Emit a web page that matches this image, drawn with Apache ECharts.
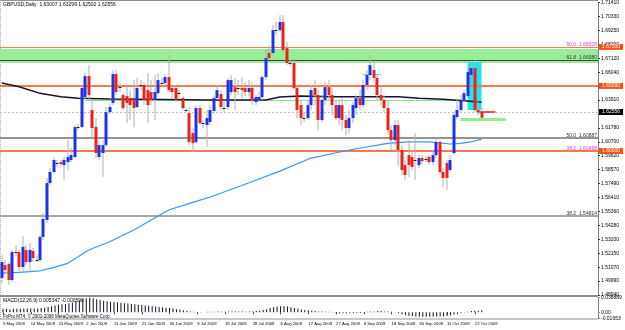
<!DOCTYPE html>
<html>
<head>
<meta charset="utf-8">
<title>GBPUSD Daily</title>
<script src="https://cdn.jsdelivr.net/npm/echarts@6/dist/echarts.min.js"></script>
<style>
  html, body { margin: 0; padding: 0; background: #fff; }
  #chart { width: 625px; height: 330px; }
</style>
</head>
<body>
<div id="chart"></div>
<script>
// daily bars, 5 May 2009 .. 26 Oct 2009 (broker has Sunday bars)
const opens = [
  1.5025, 1.5124, 1.5132, 1.5009, 1.5224, 1.5224, 1.5109, 1.5240, 1.5147, 1.5232,
  1.5163, 1.5163, 1.5340, 1.5470, 1.5754, 1.5839, 1.5908, 1.5915, 1.5892, 1.5915,
  1.5931, 1.5954, 1.6184, 1.6184, 1.6415, 1.6576, 1.6315, 1.6184, 1.5954, 1.5985,
  1.6046, 1.6299, 1.6369, 1.6591, 1.6484, 1.6430, 1.6422, 1.6407, 1.6407, 1.6338,
  1.6507, 1.6507, 1.6468, 1.6453, 1.6392, 1.6445, 1.6522, 1.6522, 1.6568, 1.6484,
  1.6484, 1.6445, 1.6407, 1.6315, 1.6292, 1.6138, 1.6069, 1.6330, 1.6215, 1.6200,
  1.6223, 1.6307, 1.6407, 1.6438, 1.6330, 1.6338, 1.6453, 1.6491, 1.6484, 1.6484,
  1.6484, 1.6453, 1.6484, 1.6376, 1.6392, 1.6415, 1.6568, 1.6753, 1.6753, 1.6929,
  1.6929, 1.6991, 1.6791, 1.6676, 1.6676, 1.6484, 1.6353, 1.6253, 1.6253, 1.6353,
  1.6484, 1.6430, 1.6238, 1.6392, 1.6491, 1.6430, 1.6353, 1.6253, 1.6353, 1.6238,
  1.6177, 1.6253, 1.6330, 1.6407, 1.6353, 1.6507, 1.6584, 1.6622, 1.6561, 1.6430,
  1.6392, 1.6330, 1.6161, 1.6084, 1.6200, 1.6008, 1.5892, 1.5969, 1.5954, 1.5931,
  1.5892, 1.5946, 1.5938, 1.5954, 1.5915, 1.5969, 1.6069, 1.5839, 1.5908, 1.5854,
  1.5985, 1.6261, 1.6315, 1.6392, 1.6422, 1.6584, 1.6637, 1.6315, 1.63007
];
const highs = [
  1.5201, 1.5163, 1.5147, 1.5240, 1.5278, 1.5240, 1.5347, 1.5278, 1.5293, 1.5255,
  1.5201, 1.5355, 1.5524, 1.5793, 1.5869, 1.5954, 1.5931, 1.5931, 1.5954, 1.6084,
  1.6023, 1.6200, 1.6207, 1.6507, 1.6599, 1.6660, 1.6392, 1.6253, 1.6084, 1.6084,
  1.6338, 1.6361, 1.6622, 1.6622, 1.6530, 1.6445, 1.6499, 1.6468, 1.6545, 1.6561,
  1.6545, 1.6530, 1.6599, 1.6545, 1.6584, 1.6599, 1.6561, 1.6591, 1.6737, 1.6507,
  1.6507, 1.6468, 1.6422, 1.6330, 1.6338, 1.6177, 1.6353, 1.6353, 1.6238, 1.6315,
  1.6353, 1.6430, 1.6507, 1.6468, 1.6392, 1.6561, 1.6584, 1.6561, 1.6545, 1.6568,
  1.6530, 1.6545, 1.6530, 1.6430, 1.6453, 1.6584, 1.6776, 1.6814, 1.6968, 1.6991,
  1.7044, 1.7044, 1.6837, 1.6699, 1.6714, 1.6507, 1.6392, 1.6299, 1.6392, 1.6507,
  1.6545, 1.6468, 1.6430, 1.6530, 1.6545, 1.6484, 1.6392, 1.6392, 1.6407, 1.6276,
  1.6315, 1.6376, 1.6430, 1.6468, 1.6545, 1.6622, 1.6737, 1.6683, 1.6584, 1.6507,
  1.6430, 1.6392, 1.6200, 1.6238, 1.6238, 1.6046, 1.5931, 1.6084, 1.6008, 1.6138,
  1.5969, 1.5969, 1.5962, 1.5969, 1.6008, 1.6100, 1.6084, 1.5869, 1.5931, 1.5969,
  1.6299, 1.6392, 1.6430, 1.6468, 1.6637, 1.6668, 1.6699, 1.6392, 1.63299
];
const lows = [
  1.4986, 1.5048, 1.4971, 1.4994, 1.5194, 1.5071, 1.5071, 1.5124, 1.5071, 1.5147,
  1.5147, 1.5147, 1.5316, 1.5447, 1.5739, 1.5823, 1.5885, 1.5885, 1.5777, 1.5854,
  1.5915, 1.5946, 1.6161, 1.6177, 1.6399, 1.6392, 1.6100, 1.5946, 1.5931, 1.5800,
  1.6031, 1.6284, 1.6353, 1.6430, 1.6453, 1.6315, 1.6215, 1.6238, 1.6184, 1.6330,
  1.6468, 1.6353, 1.6215, 1.6353, 1.6238, 1.6430, 1.6499, 1.6507, 1.6453, 1.6407,
  1.6376, 1.6407, 1.6315, 1.6299, 1.6046, 1.5992, 1.6054, 1.6200, 1.6177, 1.6031,
  1.6200, 1.6292, 1.6392, 1.6315, 1.6299, 1.6315, 1.6430, 1.6315, 1.6430, 1.6407,
  1.6422, 1.6422, 1.6353, 1.6353, 1.6376, 1.6392, 1.6545, 1.6699, 1.6737, 1.6891,
  1.6914, 1.6760, 1.6660, 1.6653, 1.6468, 1.6253, 1.6200, 1.6223, 1.6238, 1.6315,
  1.6353, 1.6161, 1.6223, 1.6353, 1.6392, 1.6276, 1.6238, 1.6200, 1.6161, 1.6123,
  1.6138, 1.6215, 1.6276, 1.6315, 1.6330, 1.6468, 1.6545, 1.6530, 1.6392, 1.6353,
  1.6299, 1.6123, 1.6008, 1.6046, 1.5892, 1.5816, 1.5777, 1.5800, 1.5854, 1.5777,
  1.5869, 1.5900, 1.5915, 1.5892, 1.5892, 1.5946, 1.5823, 1.5724, 1.5700, 1.5839,
  1.5969, 1.6246, 1.6299, 1.6376, 1.6407, 1.6545, 1.6299, 1.6276, 1.62502
];
const closes = [
  1.5147, 1.5086, 1.5009, 1.5224, 1.5222, 1.5109, 1.5263, 1.5147, 1.5240, 1.5178,
  1.5165, 1.5340, 1.5478, 1.5754, 1.5839, 1.5931, 1.5910, 1.5900, 1.5931, 1.5954,
  1.5969, 1.6184, 1.6186, 1.6484, 1.6576, 1.6430, 1.6177, 1.5985, 1.6046, 1.6046,
  1.6299, 1.6338, 1.6591, 1.6453, 1.6491, 1.6330, 1.6369, 1.6353, 1.6330, 1.6484,
  1.6505, 1.6392, 1.6353, 1.6392, 1.6453, 1.6545, 1.6520, 1.6568, 1.6468, 1.6453,
  1.6392, 1.6443, 1.6330, 1.6313, 1.6069, 1.6061, 1.6330, 1.6215, 1.6213, 1.6253,
  1.6315, 1.6407, 1.6468, 1.6338, 1.6328, 1.6545, 1.6545, 1.6453, 1.6482, 1.6468,
  1.6453, 1.6484, 1.6392, 1.6415, 1.6415, 1.6568, 1.6714, 1.6714, 1.6929, 1.6927,
  1.6991, 1.6776, 1.6676, 1.6674, 1.6484, 1.6315, 1.6253, 1.6251, 1.6353, 1.6468,
  1.6430, 1.6238, 1.6392, 1.6491, 1.6430, 1.6353, 1.6253, 1.6353, 1.6238, 1.6177,
  1.6253, 1.6353, 1.6407, 1.6353, 1.6507, 1.6584, 1.6660, 1.6561, 1.6430, 1.6392,
  1.6330, 1.6161, 1.6084, 1.6200, 1.6008, 1.5854, 1.5816, 1.5892, 1.5877, 1.5929,
  1.5946, 1.5923, 1.5936, 1.5915, 1.5969, 1.6069, 1.5839, 1.5793, 1.5793, 1.5931,
  1.6276, 1.6315, 1.6392, 1.6445, 1.6607, 1.6637, 1.6315, 1.6299, 1.62556
];
const macdHist = [
  0.009, 0.009, 0.008, 0.009, 0.009, 0.009, 0.010, 0.010, 0.010, 0.010,
  0.010, 0.011, 0.012, 0.014, 0.016, 0.018, 0.020, 0.021, 0.022, 0.024,
  0.026, 0.029, 0.031, 0.034, 0.037, 0.038, 0.037, 0.034, 0.032, 0.030,
  0.029, 0.028, 0.027, 0.026, 0.025, 0.024, 0.023, 0.022, 0.021, 0.020,
  0.019, 0.018, 0.017, 0.016, 0.015, 0.014, 0.013, 0.012, 0.011, 0.010,
  0.008, 0.007, 0.005, 0.004, 0.002, 0.001, 0.000, -0.001, 0.000, 0.001,
  0.001, 0.001, 0.002, 0.001, 0.001, 0.002, 0.002, 0.002, 0.002, 0.002,
  0.001, 0.002, 0.002, 0.003, 0.004, 0.006, 0.008, 0.011, 0.013, 0.015,
  0.016, 0.016, 0.015, 0.013, 0.011, 0.009, 0.007, 0.006, 0.005, 0.004,
  0.003, 0.002, 0.002, 0.001, 0.001, -0.001, -0.002, -0.003, -0.003, -0.003,
  -0.003, -0.003, -0.002, -0.002, -0.001, 0.001, 0.002, 0.002, 0.003, 0.003,
  0.002, 0.002, 0.001, -0.001, -0.003, -0.005, -0.007, -0.009, -0.010, -0.011,
  -0.012, -0.012, -0.012, -0.012, -0.012, -0.011, -0.011, -0.011, -0.010, -0.008,
  -0.006, -0.004, -0.002, -0.001, 0.001, 0.003, 0.004, 0.004, 0.005
];
// moving averages: [bar index, price]
const slowMa = [
  [0, 1.6522], [5, 1.6494], [11, 1.6443], [17, 1.6417], [22, 1.6405], [31, 1.6399],
  [60, 1.6392], [76, 1.6392], [80, 1.6415], [86, 1.6422], [95, 1.6417], [105, 1.6417],
  [114, 1.6417], [120, 1.6405], [127, 1.6397], [133, 1.6386], [138, 1.6375]
];
const fastMa = [
  [0, 1.5063], [5, 1.5068], [11, 1.5080], [14, 1.5099], [19, 1.5137], [22, 1.5188],
  [25, 1.5240], [31, 1.5303], [38, 1.5393], [43, 1.5470], [48, 1.5547], [54, 1.5598],
  [60, 1.5647], [71, 1.5754], [80, 1.5846], [89, 1.5946], [100, 1.6008], [111, 1.6059],
  [117, 1.6071], [123, 1.6071], [129, 1.6054], [132, 1.6059], [135, 1.6071], [138, 1.6090]
];
const dateLabels = [
  '5 May 2009', '14 May 2009', '24 May 2009', '2 Jun 2009', '11 Jun 2009', '21 Jun 2009',
  '30 Jun 2009', '9 Jul 2009', '19 Jul 2009', '28 Jul 2009', '6 Aug 2009', '17 Aug 2009',
  '27 Aug 2009', '8 Sep 2009', '18 Sep 2009', '30 Sep 2009', '11 Oct 2009', '22 Oct 2009'
];
const priceTicks = [
  '1.48940', '1.49990', '1.51070', '1.52150', '1.53200', '1.54280', '1.55360', '1.56410',
  '1.57490', '1.58570', '1.59620', '1.60700', '1.61780', '1.62830', '1.63910', '1.64990',
  '1.66040', '1.67120', '1.68200', '1.69250', '1.70330', '1.71410'
];
const fibPrices = [1.6834, 1.6697, 1.6089, 1.6048, 1.5482];
const fibTexts = ['50.0  1.68328', '61.8  1.66980', '50.0  1.60887', '38.2  1.60468', '38.2  1.54814'];
const orangeLevels = [1.6750, 1.6500, 1.6000];
const greenZone = [1.6676, 1.6783];
const cyanBox = [[134, 1.6683], [138, 1.6315]];
const bidPrice = 1.62556;
const macdRange = [-0.01653, 0.038889];

const BAR_SLOTS = 172;
const LAB = { fontFamily: 'Liberation Sans', fontSize: 5, color: '#000' };

const candles = opens.map((o, i) => [i, o, highs[i], lows[i], closes[i]]);

function renderCandle(params, api) {
  const i = api.value(0);
  const o = api.value(1), c = api.value(4);
  const pO = api.coord([i, o]);
  const pC = api.coord([i, c]);
  const pH = api.coord([i, api.value(2)]);
  const pL = api.coord([i, api.value(3)]);
  const x = Math.round(pO[0]);
  const top = Math.min(pO[1], pC[1]);
  const h = Math.abs(pO[1] - pC[1]);
  const body = h < 1
    ? { type: 'line', shape: { x1: x - 1.5, y1: Math.round(top) + 0.5, x2: x + 1.5, y2: Math.round(top) + 0.5 },
        style: { stroke: '#202020', lineWidth: 1 } }
    : { type: 'rect', shape: { x: x - 1.5, y: top, width: 3, height: h },
        style: { fill: c >= o ? '#1f33e6' : '#e6261c' } };
  return {
    type: 'group',
    children: [
      { type: 'line', shape: { x1: x, y1: pH[1], x2: x, y2: pL[1] }, style: { stroke: '#b0b0b0', lineWidth: 1 } },
      body
    ]
  };
}

const fibColors = ['#f060f0', '#404040', '#707070', '#f060f0', '#a8a8a8'];
const fibWidths = [1, 1, 1.5, 1, 2];
const levelLines = [];
fibPrices.forEach((p, k) => {
  levelLines.push({
    yAxis: p,
    lineStyle: { color: fibColors[k], width: fibWidths[k], type: 'solid' },
    label: { show: true, position: 'insideEndTop', distance: [1, 0], formatter: fibTexts[k],
      ...LAB, color: k === 0 || k === 3 ? '#e040e0' : '#303030' }
  });
});
orangeLevels.forEach((p, k) => {
  levelLines.push({
    yAxis: p,
    lineStyle: { color: '#f77a4f', width: k === 0 ? 1 : 2, type: 'solid' },
    label: { show: true, position: 'end', distance: 1, formatter: p.toFixed(5),
      ...LAB, color: '#fff', backgroundColor: '#f2541b', padding: [1, 3, 0, 3] }
  });
});
levelLines.push({
  yAxis: bidPrice,
  lineStyle: { color: '#c0c0c0', width: 1, type: [2, 2] },
  label: { show: true, position: 'end', distance: 1, formatter: bidPrice.toFixed(5),
    ...LAB, color: '#fff', backgroundColor: '#000', padding: [1, 3, 0, 3] }
});
// drawn objects
levelLines.push([
  { coord: [24, 1.6388], lineStyle: { color: '#8fe08f', width: 1, type: 'solid' }, label: { show: false } },
  { coord: [132, 1.6388] }
]);
levelLines.push([
  { coord: [104, 1.6591], lineStyle: { color: '#30e8f0', width: 1, type: 'solid' }, label: { show: false } },
  { coord: [109, 1.6591] }
]);
levelLines.push([
  { coord: [132, 1.6246], lineStyle: { color: '#90ee90', width: 3, type: 'solid' }, label: { show: false } },
  { coord: [145, 1.6246] }
]);
levelLines.push([
  { coord: [137, 1.6299], lineStyle: { color: '#e02020', width: 1.5, type: 'solid' }, label: { show: false } },
  { coord: [142, 1.6299] }
]);

const chart = echarts.init(document.getElementById('chart'), null, { renderer: 'canvas' });

const showDate = (i) => i % 8 === 0 && i / 8 < dateLabels.length;

chart.setOption({
  animation: false,
  backgroundColor: '#fff',
  grid: [
    { left: 0, top: 2.4, width: 598, height: 292.6 },
    { left: 0, top: 297.5, width: 598, height: 21 }
  ],
  xAxis: [
    {
      type: 'category', gridIndex: 0, data: Array.from({ length: BAR_SLOTS }, (_, i) => i),
      axisLine: { show: false }, axisTick: { show: false }, axisLabel: { show: false }
    },
    {
      type: 'category', gridIndex: 1, data: Array.from({ length: BAR_SLOTS }, (_, i) => i),
      axisLine: { show: false },
      axisTick: { show: true, alignWithLabel: true, length: 2, lineStyle: { color: '#404040' }, interval: showDate },
      axisLabel: {
        ...LAB, fontSize: 4.2, align: 'left', margin: 3, interval: showDate,
        formatter: (v, i) => dateLabels[i / 8] || ''
      }
    }
  ],
  yAxis: [
    {
      type: 'value', gridIndex: 0, position: 'right', min: 1.4894, max: 1.7141, interval: 0.0107,
      axisLine: { show: true, lineStyle: { color: '#808080' } },
      axisTick: { show: true, length: 2, lineStyle: { color: '#404040' } },
      axisLabel: { ...LAB, margin: 3, formatter: (v, i) => priceTicks[i] || '' },
      splitLine: { show: false }
    },
    {
      type: 'value', gridIndex: 1, position: 'right', min: macdRange[0], max: macdRange[1],
      axisLine: { show: true, lineStyle: { color: '#808080' } },
      axisTick: { show: true, length: 2, customValues: [macdRange[0], 0, macdRange[1]] },
      axisLabel: { ...LAB, margin: 3, customValues: [macdRange[0], 0, macdRange[1]],
        formatter: (v) => v === 0 ? '0.00' : (v > 0 ? v.toFixed(6) : v.toFixed(5)) },
      splitLine: { show: false }
    }
  ],
  series: [
    {
      type: 'line', xAxisIndex: 0, yAxisIndex: 0, data: [], silent: true, z: 1,
      markArea: {
        silent: true,
        data: [
          [{ yAxis: greenZone[1], itemStyle: { color: '#98ee98' } }, { yAxis: greenZone[0] }],
          [{ coord: cyanBox[0], itemStyle: { color: '#1ee6f0' } }, { coord: cyanBox[1] }]
        ]
      }
    },
    {
      type: 'line', xAxisIndex: 0, yAxisIndex: 0, data: slowMa, showSymbol: false, silent: true, z: 2,
      lineStyle: { color: '#151530', width: 1.5 },
      markLine: { silent: true, symbol: 'none', data: levelLines, z: 1 }
    },
    {
      type: 'line', xAxisIndex: 0, yAxisIndex: 0, data: fastMa, showSymbol: false, silent: true, z: 2,
      lineStyle: { color: '#3399ff', width: 1.2 }
    },
    {
      type: 'custom', xAxisIndex: 0, yAxisIndex: 0, data: candles, renderItem: renderCandle, z: 3,
      encode: { x: 0, y: [1, 2, 3, 4] }, silent: true
    },
    {
      type: 'bar', xAxisIndex: 1, yAxisIndex: 1, data: macdHist, barWidth: 1, silent: true,
      itemStyle: { color: '#101028' }
    }
  ],
  graphic: [
    { type: 'line', shape: { x1: 0, y1: 0.5, x2: 598, y2: 0.5 }, style: { stroke: '#909090' } },
    { type: 'line', shape: { x1: 0.5, y1: 0, x2: 0.5, y2: 319 }, style: { stroke: '#b0b0b0', lineDash: [1, 1] } },
    { type: 'line', shape: { x1: 0, y1: 296, x2: 598, y2: 296 }, style: { stroke: '#909090', lineWidth: 2 } },
    { type: 'line', shape: { x1: 0, y1: 319, x2: 598, y2: 319 }, style: { stroke: '#909090' } },
    { type: 'text', left: 3, top: 2, style: { text: 'GBPUSD,Daily  1.63007 1.63299 1.62502 1.62556', font: '5px "Liberation Sans"', fill: '#000' } },
    { type: 'text', left: 3, top: 298.5, style: { text: 'MACD(12,26,9) 0.005347 -0.000598', font: '5px "Liberation Sans"', fill: '#000' } },
    { type: 'text', left: 3, top: 314.5, style: { text: 'FxPro MT4, \u00a9 2001-2008 MetaQuotes Software Corp.', font: '4.5px "Liberation Sans"', fill: '#000' } }
  ]
});
</script>
</body>
</html>
